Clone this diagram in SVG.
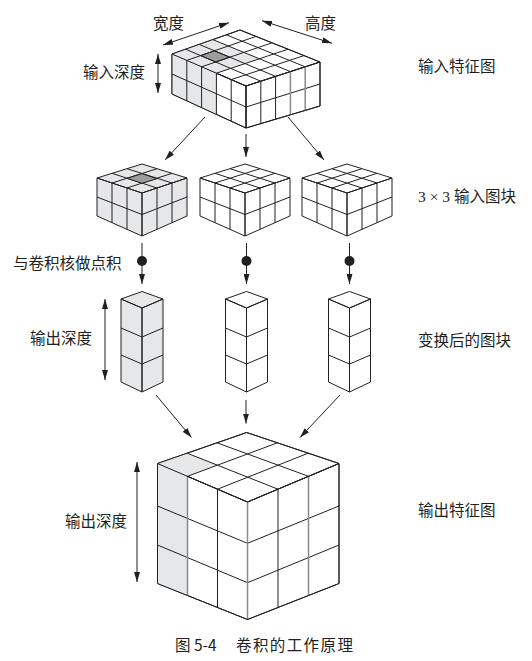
<svg xmlns="http://www.w3.org/2000/svg" xmlns:xlink="http://www.w3.org/1999/xlink" width="532" height="661" viewBox="0 0 532 661">
<style>
.face{stroke:#231f20;stroke-width:1;stroke-linejoin:round}
.ln{stroke:#231f20;stroke-width:1;fill:none}
.gl{stroke:#8a8a8a;stroke-width:1.5;fill:none}
.grey{fill:#e6e7e8;stroke:none}
.dark{fill:#9d9d9d;stroke:#231f20;stroke-width:1}
.t{font-family:"Noto Sans CJK SC",sans-serif;font-size:15.5px;fill:#231f20}
.conn{stroke:#231f20;stroke-width:1;fill:none;marker-end:url(#ah)}
.dbl{stroke:#231f20;stroke-width:1;fill:none;marker-start:url(#ah);marker-end:url(#ah)}
</style>
<defs>
<marker id="ah" viewBox="0 0 10 6" refX="10" refY="3" markerWidth="10" markerHeight="6" markerUnits="userSpaceOnUse" orient="auto-start-reverse">
<path d="M0,0 L10,3 L0,6 Z" fill="#231f20"/>
</marker>
<g id="mc">
<path class="face" d="M-45,178 L0,164 L45,178 L0,193 Z M-45,178 L0,193 L0,236 L-45,216 Z M0,193 L45,178 L45,216 L0,236 Z"/>
<path class="ln" d="M-30,173.3 L15,188 M-15,168.7 L30,183 M-30,183 L15,168.7 M-15,188 L30,173.3 M-30,183 V222.7 M-15,188 V229.3 M15,188 V229.3 M30,183 V222.7 M-45,197 L0,214.5 L45,197"/>
</g>
<g id="col">
<path class="face" d="M-21,299 L0,291.5 L21,299 L0,308 Z M-21,299 L0,308 L0,392 L-21,382 Z M0,308 L21,299 L21,382 L0,392 Z"/>
<path class="ln" d="M-21,328 L0,337 L21,328 M-21,355 L0,364 L21,355"/>
</g>
</defs>

<g id="input-map">
<path class="face" fill="#fff" d="M172,54 L240,30 L320,62 L246,86 Z M172,54 L246,86 L246,128 L172,94 Z M246,86 L320,62 L320,106 L246,128 Z"/>
<polygon class="grey" points="172,54 212.8,39.6 259.4,58.8 216.4,73.2"/>
<polygon class="grey" points="172,54 216.4,73.2 216.4,114.4 172,94"/>
<polygon class="dark" points="200.6,55.6 215.7,62 229.8,57.2 214.5,50.8"/>
<path class="ln" d="M185.6,49.2 L260.8,81.2 M199.2,44.4 L275.6,76.4 M212.8,39.6 L290.4,71.6 M226.4,34.8 L305.2,66.8 M186.8,60.4 L256,36.4 M201.6,66.8 L272,42.8 M216.4,73.2 L288,49.2 M231.2,79.6 L304,55.6 M186.8,60.4 V100.8 M201.6,66.8 V107.6 M216.4,73.2 V114.4 M231.2,79.6 V121.2 M260.8,81.2 V123.6 M275.6,76.4 V119.2 M172,74 L246,107 L320,84"/>
<path class="gl" d="M290.4,71.6 V114.8 M305.2,66.8 V110.4"/>
<path class="ln" d="M172,54 L240,30 L320,62 L246,86 Z M172,54 V94 L246,128 L320,106 V62 M246,86 V128"/>
</g>

<g id="patch-1">
<use xlink:href="#mc" href="#mc" x="142" fill="#e6e7e8"/>
<polygon class="dark" points="127,178.3 142,183.3 157,178.7 142,173.7"/>
</g>
<g id="patch-2"><use xlink:href="#mc" href="#mc" x="245" fill="#fff"/></g>
<g id="patch-3"><use xlink:href="#mc" href="#mc" x="347" fill="#fff"/></g>

<g id="column-1"><use xlink:href="#col" href="#col" x="142" fill="#e6e7e8"/></g>
<g id="column-2"><use xlink:href="#col" href="#col" x="246.5" fill="#fff"/></g>
<g id="column-3"><use xlink:href="#col" href="#col" x="349.5" fill="#fff"/></g>

<g id="output-map">
<path class="face" fill="#fff" d="M157.5,463.5 L246.7,432.5 L339,463.5 L247.5,502 Z M157.5,463.5 L247.5,502 L247.5,619.5 L157.5,583.5 Z M247.5,502 L339,463.5 L339,583.5 L247.5,619.5 Z"/>
<polygon class="grey" points="157.5,463.5 187.2,453.2 217.5,465.2 187.5,476.3"/>
<polygon class="grey" points="157.5,463.5 187.5,476.3 187.5,595.5 157.5,583.5"/>
<path class="ln" d="M187.2,453.2 L278,489.2 M217,442.8 L308.5,476.3 M187.5,476.3 L277.5,442.8 M217.5,489.2 L308.2,453.2 M217.5,489.2 V607.5 M278,489.2 V607.5 M157.5,506 L247.5,543.3 L339,506 M157.5,545 L247.5,582.7 L339,545"/>
<path class="gl" d="M187.5,476.3 V595.5 M247.5,502 V619.5 M308.5,476.3 V595.5"/>
<path class="ln" d="M157.5,463.5 L246.7,432.5 L339,463.5 L247.5,502 Z M157.5,463.5 V583.5 L247.5,619.5 L339,583.5 V463.5"/>
</g>

<g id="connectors">
<path class="conn" d="M205,117 L165,160"/>
<path class="conn" d="M246,134 V157"/>
<path class="conn" d="M288,117 L324,160"/>
<path class="conn" d="M142,243 V284"/>
<path class="conn" d="M246.5,243 V284"/>
<path class="conn" d="M349.5,243 V284"/>
<circle cx="142" cy="261" r="5" fill="#231f20"/>
<circle cx="246.5" cy="261" r="5" fill="#231f20"/>
<circle cx="349.5" cy="261" r="5" fill="#231f20"/>
<path class="conn" d="M156,395 L191.5,437.5"/>
<path class="conn" d="M246,400 V423.5"/>
<path class="conn" d="M340,395 L300,437.5"/>
<path class="dbl" d="M163,45 L229,22.7"/>
<path class="dbl" d="M262,20.7 L332,43.3"/>
<path class="dbl" d="M158,54 V93"/>
<path class="dbl" d="M105,299 V380"/>
<path class="dbl" d="M137,462 V582"/>
</g>

<g id="labels">
<text class="t" x="153" y="29">宽度</text>
<text class="t" x="305" y="29">高度</text>
<text class="t" x="83" y="77.7">输入深度</text>
<text class="t" x="418" y="72.4">输入特征图</text>
<text class="t" x="418" y="202.4"><tspan font-family="Liberation Serif, serif">3 × 3 </tspan>输入图块</text>
<text class="t" x="13" y="268.7">与卷积核做点积</text>
<text class="t" x="30" y="343.7">输出深度</text>
<text class="t" x="418" y="345.7">变换后的图块</text>
<text class="t" x="65" y="526.7">输出深度</text>
<text class="t" x="418" y="515.7">输出特征图</text>
<text class="t" x="175" y="651" font-size="16px">图 5-4</text>
<text class="t" x="236" y="651" font-size="16px" letter-spacing="1.4">卷积的工作原理</text>
</g>
</svg>
